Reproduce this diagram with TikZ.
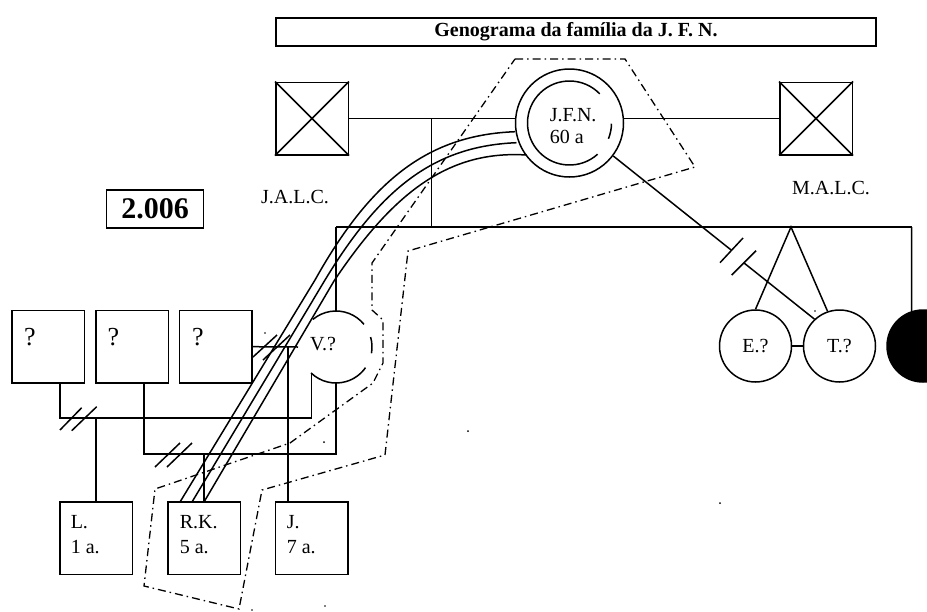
\documentclass[tikz,border=0pt]{standalone}
\usepackage{fontspec}
\setmainfont{Liberation Serif}
\begin{document}
\begin{tikzpicture}[x=1pt,y=-1pt,line width=1.5pt,
  every node/.style={inner sep=0pt, font=\fontsize{20}{25}\selectfont},
  sq/.style={draw, minimum width=72.5pt, minimum height=72.5pt},
  person/.style={draw, circle, minimum size=72pt},
  hh/.style={line width=1.3pt, dash pattern=on 8pt off 4pt on 1.5pt off 4pt},
  lbl/.style={anchor=west}]
\useasboundingbox (0,0) rectangle (927,611);
\clip (0,0) rectangle (927,611);

% title and year
\node[draw, minimum width=600pt, minimum height=28pt, font=\bfseries\fontsize{20}{24}\selectfont] (title) at (576,32) {Genograma da família da J. F. N.};
\node[draw, minimum width=96.6pt, minimum height=38.3pt, font=\bfseries\fontsize{30}{32}\selectfont] (year) at (155,209) {2.006};

% grandparents
\node[sq] (jalc) at (312,118.5) {};
\draw (jalc.north west) -- (jalc.south east) (jalc.north east) -- (jalc.south west);
\node[sq] (malc) at (816,118.5) {};
\draw (malc.north west) -- (malc.south east) (malc.north east) -- (malc.south west);
\node (jalct) at (295,197) {J.A.L.C.};
\node (malct) at (831,188) {M.A.L.C.};

% J.F.N.
\coordinate (jc) at (569.5,123);
\node[draw, circle, minimum size=108pt] (jfn) at (jc) {};
\draw ([shift={(44:42pt)}]jc) arc[start angle=44, end angle=312, radius=42pt];
\draw ([shift={(-22:42pt)}]jc) arc[start angle=-22, end angle=-1, radius=42pt];
\node[lbl] (jfnt1) at (549,115) {J.F.N.};
\node[lbl] (jfnt2) at (549,137) {60 a};

% marriage lines
\draw (jalc.east) -- (jalc.east -| jfn.west);
\draw (malc.west -| jfn.east) -- (malc.west);
\coordinate (mj) at (431.7,118.5);
\coordinate (mjd) at (431.7,227);
\draw (mj) -- (mjd);

% sibship line
\coordinate (sibL) at (336,227);
\coordinate (sibR) at (911.7,227);
\draw (sibL) -- (sibR);

% V.?
\coordinate (vc) at (336,347);
\draw ([shift={(39:36pt)}]vc) arc[start angle=39, end angle=130, radius=36pt];
\draw ([shift={(226:36pt)}]vc) arc[start angle=226, end angle=325, radius=36pt];
\draw ([shift={(-10:36pt)}]vc) arc[start angle=-10, end angle=16, radius=36pt];
\node (vt) at (323,344) {V.?};
\coordinate (vtop) at (336,311);
\draw (sibL) -- (vtop);

% partners of V.?
\node[sq] (q1) at (48,346.7) {};
\node[sq] (q2) at (132,346.7) {};
\node[sq] (q3) at (215.5,346.7) {};
\node[font=\fontsize{26}{28}\selectfont] (q1t) at (30,337) {?};
\node[font=\fontsize{26}{28}\selectfont] (q2t) at (113.5,337) {?};
\node[font=\fontsize{26}{28}\selectfont] (q3t) at (198,337) {?};

% children
\node[sq] (L) at (96,538) {};
\node[sq] (RK) at (204,538) {};
\node[sq] (J) at (311.7,538) {};
\node[lbl] (Lt1) at (70,522) {L.};
\node[lbl] (Lt2) at (70,547) {1 a.};
\node[lbl] (RKt1) at (179,522) {R.K.};
\node[lbl] (RKt2) at (179,547) {5 a.};
\node[lbl] (Jt1) at (286,522) {J.};
\node[lbl] (Jt2) at (286,547) {7 a.};

% couple 1 (q1 - V)
\coordinate (c1a) at (60,382.9);
\coordinate (c1b) at (60,418);
\coordinate (c1c) at (311.7,418);
\coordinate (c1d) at (311.7,373.8);
\draw (c1a) -- (c1b) -- (c1c) -- (c1d);
\draw (60,430) -- (81.7,407.7) (71.7,430.7) -- (96.7,406.7);
\coordinate (c1k) at (96,418);
\draw (c1k) -- (L.north);

% couple 2 (q2 - V)
\coordinate (c2a) at (144,382.9);
\coordinate (c2b) at (144,454);
\coordinate (c2c) at (336,454);
\coordinate (c2d) at (336,383);
\draw (c2a) -- (c2b) -- (c2c) -- (c2d);
\draw (155,467) -- (180,443) (167,467) -- (192,443);
\coordinate (c2k) at (204,454);
\draw (c2k) -- (RK.north);

% couple 3 (q3 - V)
\coordinate (c3b) at (298,347);
\draw (q3.east) -- (c3b);
\draw (253,357) -- (277,335) (263,360) -- (290,335);
\coordinate (c3k) at (288,347);
\coordinate (c3j) at (288,502);
\draw (c3k) -- (c3j);

% close relationship J.F.N. - R.K.
\coordinate (r1a) at (515,131.7);
\coordinate (r2a) at (516.5,142.7);
\coordinate (r3a) at (526.5,155);
\coordinate (r1b) at (180,502);
\coordinate (r2b) at (192,502);
\coordinate (r3b) at (204,502);
\draw (r1a) .. controls (430,135) and (372,178) .. (315,280) -- (r1b);
\draw (r2a) .. controls (436,146) and (382,186) .. (325,280) -- (r2b);
\draw (r3a) .. controls (448,150) and (393,193) .. (334,281) -- (r3b);

% E.? and T.?
\node[person] (E) at (755.5,346) {E.?};
\node[person] (T) at (839.5,346) {T.?};
\draw (E.east) -- (T.west);
\coordinate (tw) at (791,227);
\draw (E.north) -- (tw) -- (T.109);
\coordinate (s1) at (731.5,250.3);
\coordinate (s2) at (743.8,262.8);
\draw (jfn.-37) -- (s1);
\draw (s2) -- (T.133);
\draw (720,262.7) -- (743,238) (731.7,275) -- (756,250.7);

% black circle
\node[draw, circle, fill=black, minimum size=72pt] (blk) at (923,346) {};
\draw (sibR) -- (blk.108);

% household boundary
\draw[hh] (515,59) -- (625,59) -- (695,167) -- (408,251) -- (385,455) -- (262,490)
  -- (239,609) -- (144,586) -- (155,489) -- (290,443) -- (373,383) -- (383,363)
  -- (383,320) -- (372,310) -- (372,263) -- cycle;

% stray dots
\fill (468,431) circle[radius=1pt];
\fill (720,503) circle[radius=1pt];
\fill (324,442) circle[radius=1pt];
\fill (815,311) circle[radius=0.8pt];
\fill (265,333) circle[radius=0.8pt];
\fill (252,610) circle[radius=0.8pt];
\fill (325,606) circle[radius=0.8pt];
\end{tikzpicture}
\end{document}
